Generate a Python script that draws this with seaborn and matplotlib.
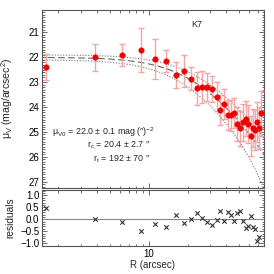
import numpy as np
import pandas as pd
import matplotlib
matplotlib.use("Agg")
import matplotlib.pyplot as plt
import seaborn as sns
from matplotlib.ticker import MultipleLocator, LogLocator, NullFormatter, FixedLocator, FixedFormatter

# ---- data ----
radius = [1.62, 3.83, 6.27, 8.68, 11.12, 13.62, 16.16, 18.63, 21.09, 23.75,
          26.10, 28.53, 31.18, 33.72, 35.75, 38.59, 41.21, 43.69, 46.09, 48.62,
          50.82, 53.51, 56.23, 58.57, 61.45, 63.68, 65.98, 68.74, 71.11, 74.07]
mu = [22.40, 22.00, 21.91, 21.71, 22.07, 22.14, 22.70, 22.56, 22.86, 23.25,
      23.20, 23.20, 23.27, 23.58, 24.12, 23.88, 24.33, 24.33, 24.22, 24.68,
      24.85, 24.61, 24.47, 24.68, 25.16, 24.84, 24.92, 24.61, 24.85, 24.25]
mu_err = [0.53, 0.55, 0.45, 0.90, 0.82, 0.45, 0.53, 0.65, 0.47, 0.67,
          0.65, 0.57, 0.53, 0.57, 0.60, 0.60, 0.60, 0.62, 0.60, 0.70,
          0.70, 0.75, 0.70, 0.75, 0.80, 0.75, 0.80, 0.80, 0.85, 0.90]
resid = [0.46, 0.00, -0.12, -0.49, -0.21, -0.31, 0.17, -0.15, 0.00, 0.26,
         0.05, -0.11, -0.22, -0.03, 0.36, -0.06, 0.30, 0.18, -0.09, 0.25,
         0.34, -0.09, -0.37, -0.29, 0.15, -0.34, -0.42, -0.91, -0.73, -1.50]

mu0, rc, rt = 22.0, 20.4, 192.0
mu0_err, rc_err, rt_err = 0.1, 2.7, 70.0
x_ticks = [10]
x_tick_labels = ["10"]

sns.set_theme(style="ticks")
plt.rcParams['font.family'] = ['Liberation Sans', 'DejaVu Sans']
plt.rcParams['mathtext.default'] = 'regular'
plt.rcParams['axes.edgecolor'] = '#555555'
plt.rcParams['xtick.color'] = '#555555'
plt.rcParams['ytick.color'] = '#555555'
plt.rcParams['xtick.labelcolor'] = 'black'
plt.rcParams['ytick.labelcolor'] = 'black'


def king(r, m0, c, t):
    f = 1.0 / np.sqrt(1 + (r / c) ** 2) - 1.0 / np.sqrt(1 + (t / c) ** 2)
    f0 = 1.0 - 1.0 / np.sqrt(1 + (t / c) ** 2)
    f = np.where(f > 0, f, np.nan)
    return m0 - 2.5 * np.log10((f / f0) ** 2)


fig = plt.figure(figsize=(2.74, 2.74), dpi=100)
W = H = 274.0
L, R = 42 / W, 264 / W
ax = fig.add_axes([L, 1 - 187.5 / H, R - L, (187.5 - 10) / H])
axr = fig.add_axes([L, 1 - 246 / H, R - L, (246 - 189.5) / H])

grid = np.logspace(np.log10(1.4), np.log10(80), 300)
curves = pd.DataFrame({
    "R": np.concatenate([grid] * 3),
    "mu": np.concatenate([king(grid, mu0, rc, rt),
                          king(grid, mu0 - mu0_err, rc + rc_err, rt + rt_err),
                          king(grid, mu0 + mu0_err, rc - rc_err, rt - rt_err)]),
    "kind": ["fit"] * 300 + ["hi"] * 300 + ["lo"] * 300,
})
sns.lineplot(data=curves[curves.kind == "fit"], x="R", y="mu", ax=ax,
             color="#666666", lw=0.8, linestyle=(0, (6, 3)), legend=False)
for k in ["hi", "lo"]:
    sns.lineplot(data=curves[curves.kind == k], x="R", y="mu", ax=ax,
                 color="#777777", lw=0.8, linestyle=(0, (1, 1.5)), legend=False)

pts = pd.DataFrame({"R": radius, "mu": mu, "err": mu_err, "res": resid})
ax.errorbar(pts.R, pts.mu, yerr=pts.err, fmt="none", ecolor="#f7a3a3",
            elinewidth=1.0, capsize=2, capthick=1.0, zorder=3)
sns.scatterplot(data=pts, x="R", y="mu", ax=ax, color="#ee0000", s=16,
                edgecolor="#ee0000", linewidth=0.3, zorder=4, legend=False)

ax.set_xscale("log")
ax.set_xlim(1.5, 78)
ax.set_ylim(27.23, 20.1)
ax.yaxis.set_major_locator(MultipleLocator(1))
ax.yaxis.set_minor_locator(MultipleLocator(0.1))
ax.xaxis.set_major_locator(FixedLocator(x_ticks))
ax.xaxis.set_minor_locator(LogLocator(base=10, subs=np.arange(2, 10)))
ax.xaxis.set_major_formatter(NullFormatter())
ax.xaxis.set_minor_formatter(NullFormatter())
ax.set_xlabel("")
ax.set_ylabel(r"$\mu_V$ (mag/arcsec$^2$)", fontsize=7.6)
ax.yaxis.set_label_coords(-0.12, 0.5)

ax.text(0.698, 0.921, "K7", transform=ax.transAxes, fontsize=6.5,
        ha="center", va="center")
ax.text(0.509, 0.314, r"$\mu_{V0}$ = 22.0 $\pm$ 0.1 mag (″)$^{-2}$",
        transform=ax.transAxes, fontsize=6.4, ha="right", va="center")
ax.text(0.488, 0.236, r"$r_c$ = 20.4 $\pm$ 2.7 ″",
        transform=ax.transAxes, fontsize=6.4, ha="right", va="center")
ax.text(0.488, 0.159, r"$r_t$ = 192 $\pm$ 70 ″",
        transform=ax.transAxes, fontsize=6.4, ha="right", va="center")

# residuals
axr.axhline(0, color="#888888", lw=0.8, zorder=1)
sns.scatterplot(data=pts, x="R", y="res", ax=axr, marker="x", color="#333333",
                s=10, linewidth=0.8, zorder=3, legend=False)
axr.set_xscale("log")
axr.set_xlim(1.5, 78)
axr.set_ylim(-1.12, 1.25)
axr.yaxis.set_major_locator(MultipleLocator(0.5))
axr.yaxis.set_minor_locator(MultipleLocator(0.1))
axr.yaxis.set_major_formatter(plt.FuncFormatter(lambda v, p: f"{v:.1f}".replace("-", "\u2212")))
axr.xaxis.set_major_locator(FixedLocator(x_ticks))
axr.xaxis.set_major_formatter(FixedFormatter(x_tick_labels))
axr.xaxis.set_minor_locator(LogLocator(base=10, subs=np.arange(2, 10)))
axr.xaxis.set_minor_formatter(NullFormatter())
axr.set_xlabel("R (arcsec)", fontsize=7, labelpad=1)
axr.set_ylabel("residuals", fontsize=7.3)
axr.yaxis.set_label_coords(-0.12, 0.5)

for a in (ax, axr):
    a.tick_params(which="both", direction="in", top=True, right=True,
                  labelsize=7, width=0.6, pad=2)
    a.tick_params(which="major", length=3.5)
    a.tick_params(which="minor", length=1.8)
    for s in a.spines.values():
        s.set_linewidth(0.8)

fig.savefig("out.png", dpi=100)
